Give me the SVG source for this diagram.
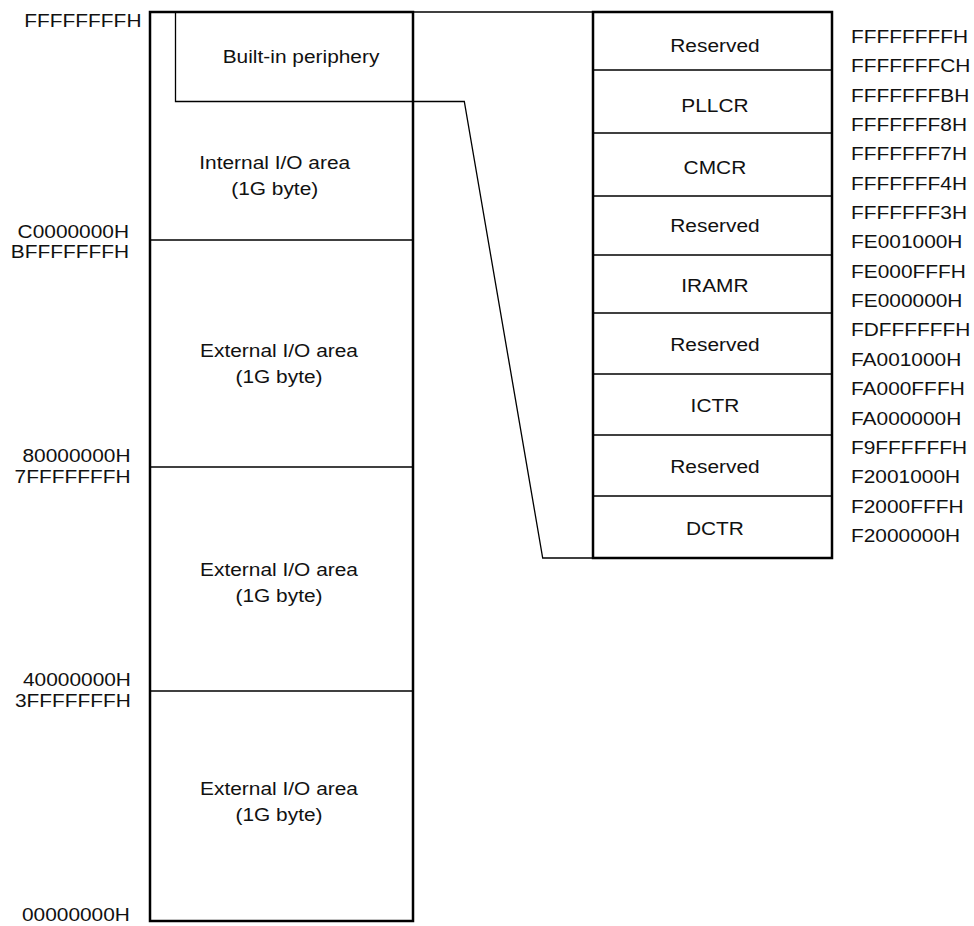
<svg xmlns="http://www.w3.org/2000/svg" width="974" height="926" viewBox="0 0 974 926">
<style>
text{font-family:"Liberation Sans",Arial,Helvetica,sans-serif;font-size:18.5px;fill:#111}
.e{text-anchor:end}
.m{text-anchor:middle}
.box{fill:#fff;stroke:#000;stroke-width:2.5}
.div{stroke:#000;stroke-width:1.3;fill:none}
.con{stroke:#000;stroke-width:1.3;fill:none}
</style>
<rect width="974" height="926" fill="#fff"/>

<g id="address-labels-left">
<text class="e" transform="scale(1.13 1)" x="125.2" y="27">FFFFFFFFH</text>
<text class="e" transform="scale(1.13 1)" x="114.2" y="238">C0000000H</text>
<text class="e" transform="scale(1.13 1)" x="114.2" y="258">BFFFFFFFH</text>
<text class="e" transform="scale(1.13 1)" x="115.5" y="462">80000000H</text>
<text class="e" transform="scale(1.13 1)" x="115.5" y="483">7FFFFFFFH</text>
<text class="e" transform="scale(1.13 1)" x="115.9" y="686">40000000H</text>
<text class="e" transform="scale(1.13 1)" x="115.9" y="707">3FFFFFFFH</text>
<text class="e" transform="scale(1.13 1)" x="115.0" y="921">00000000H</text>
</g>

<g id="memory-map">
<rect class="box" x="150" y="12" width="263" height="909"/>
<line class="div" x1="150" y1="240" x2="413" y2="240"/>
<line class="div" x1="150" y1="467" x2="413" y2="467"/>
<line class="div" x1="150" y1="691" x2="413" y2="691"/>
</g>

<g id="internal-io">
<text class="m" transform="scale(1.13 1)" x="243.1" y="169">Internal I/O area</text>
<text class="m" transform="scale(1.13 1)" x="243.1" y="195">(1G byte)</text>
</g>

<g id="builtin-periphery">
<path class="div" d="M175.5 12 V101.5 H413"/>
<text class="m" transform="scale(1.13 1)" x="266.4" y="63">Built-in periphery</text>
</g>

<g id="external-io-3">
<text class="m" transform="scale(1.13 1)" x="246.9" y="357">External I/O area</text>
<text class="m" transform="scale(1.13 1)" x="246.9" y="383">(1G byte)</text>
</g>
<g id="external-io-2">
<text class="m" transform="scale(1.13 1)" x="246.9" y="576">External I/O area</text>
<text class="m" transform="scale(1.13 1)" x="246.9" y="602">(1G byte)</text>
</g>
<g id="external-io-1">
<text class="m" transform="scale(1.13 1)" x="246.9" y="795">External I/O area</text>
<text class="m" transform="scale(1.13 1)" x="246.9" y="821">(1G byte)</text>
</g>

<g id="connectors">
<path class="con" d="M413 12 H593"/>
<path class="con" d="M413 101.5 H464.3 L542.7 558 H593"/>
</g>

<g id="register-map">
<rect class="box" x="593" y="12" width="239" height="546"/>
<line class="div" x1="593" y1="70" x2="832" y2="70"/>
<line class="div" x1="593" y1="133" x2="832" y2="133"/>
<line class="div" x1="593" y1="196" x2="832" y2="196"/>
<line class="div" x1="593" y1="255" x2="832" y2="255"/>
<line class="div" x1="593" y1="313" x2="832" y2="313"/>
<line class="div" x1="593" y1="374" x2="832" y2="374"/>
<line class="div" x1="593" y1="435" x2="832" y2="435"/>
<line class="div" x1="593" y1="496" x2="832" y2="496"/>
</g>
<g id="reg-reserved-1"><text class="m" transform="scale(1.13 1)" x="632.7" y="52">Reserved</text></g>
<g id="reg-pllcr"><text class="m" transform="scale(1.13 1)" x="632.7" y="112">PLLCR</text></g>
<g id="reg-cmcr"><text class="m" transform="scale(1.13 1)" x="632.7" y="174">CMCR</text></g>
<g id="reg-reserved-2"><text class="m" transform="scale(1.13 1)" x="632.7" y="232">Reserved</text></g>
<g id="reg-iramr"><text class="m" transform="scale(1.13 1)" x="632.7" y="292">IRAMR</text></g>
<g id="reg-reserved-3"><text class="m" transform="scale(1.13 1)" x="632.7" y="351">Reserved</text></g>
<g id="reg-ictr"><text class="m" transform="scale(1.13 1)" x="632.7" y="412">ICTR</text></g>
<g id="reg-reserved-4"><text class="m" transform="scale(1.13 1)" x="632.7" y="473">Reserved</text></g>
<g id="reg-dctr"><text class="m" transform="scale(1.13 1)" x="632.7" y="535">DCTR</text></g>

<g id="address-labels-right">
<text transform="scale(1.13 1)" x="753.1" y="43">FFFFFFFFH</text>
<text transform="scale(1.13 1)" x="753.1" y="72.4">FFFFFFFCH</text>
<text transform="scale(1.13 1)" x="753.1" y="101.7">FFFFFFFBH</text>
<text transform="scale(1.13 1)" x="753.1" y="131.1">FFFFFFF8H</text>
<text transform="scale(1.13 1)" x="753.1" y="160.4">FFFFFFF7H</text>
<text transform="scale(1.13 1)" x="753.1" y="189.8">FFFFFFF4H</text>
<text transform="scale(1.13 1)" x="753.1" y="219.1">FFFFFFF3H</text>
<text transform="scale(1.13 1)" x="753.1" y="248.5">FE001000H</text>
<text transform="scale(1.13 1)" x="753.1" y="277.8">FE000FFFH</text>
<text transform="scale(1.13 1)" x="753.1" y="307.2">FE000000H</text>
<text transform="scale(1.13 1)" x="753.1" y="336.5">FDFFFFFFH</text>
<text transform="scale(1.13 1)" x="753.1" y="365.9">FA001000H</text>
<text transform="scale(1.13 1)" x="753.1" y="395.2">FA000FFFH</text>
<text transform="scale(1.13 1)" x="753.1" y="424.6">FA000000H</text>
<text transform="scale(1.13 1)" x="753.1" y="453.9">F9FFFFFFH</text>
<text transform="scale(1.13 1)" x="753.1" y="483.3">F2001000H</text>
<text transform="scale(1.13 1)" x="753.1" y="512.6">F2000FFFH</text>
<text transform="scale(1.13 1)" x="753.1" y="542">F2000000H</text>
</g>
</svg>
